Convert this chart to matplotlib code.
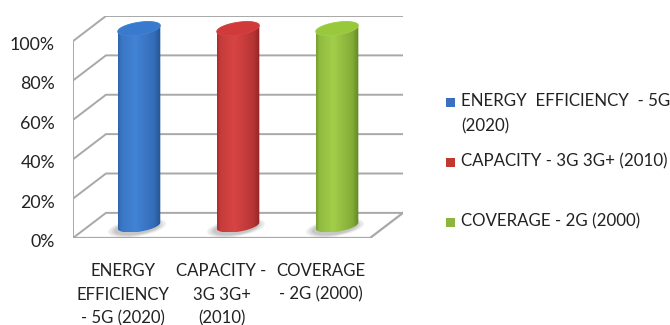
import numpy as np
import matplotlib
matplotlib.use("Agg")
import matplotlib.pyplot as plt
from matplotlib.patches import Polygon, Rectangle
from matplotlib.colors import to_rgb
from matplotlib.transforms import ScaledTranslation

categories = ["ENERGY\nEFFICIENCY\n- 5G (2020)", "CAPACITY -\n3G 3G+\n(2010)", "COVERAGE\n- 2G (2000)"]
series_names = ["ENERGY  EFFICIENCY  - 5G\n(2020)", "CAPACITY - 3G 3G+ (2010)", "COVERAGE - 2G (2000)"]
values = [100, 100, 100]
y_ticks = [0, 20, 40, 60, 80, 100]
y_tick_labels = ["0%", "20%", "40%", "60%", "80%", "100%"]

# (dark, light, top, legend) per series
palette = [
    ("#22508f", "#4283d6", "#3a7ace", "#3b70c0"),
    ("#8e2222", "#d84444", "#d03a3a", "#c0392f"),
    ("#5c8322", "#a2ce4a", "#98c93c", "#8db43e"),
]

FONT = "Lato"
TXT = "#222222"
GRID = "#a8a8a8"
W, H = 670, 325

# oblique depth offset (data units) for full depth
DXu = 0.333
DYu = 12.76

fig = plt.figure(figsize=(6.7, 3.25), dpi=100)
ax = fig.add_axes([73 / W, (H - 238) / H, 330 / W, 222 / H])


def proj(x, y, z):
    return x + z * DXu, y + z * DYu


# walls and floor grid
x0, x1 = -0.5, len(categories) - 0.5
for v in y_ticks:
    bx0, by = proj(x0, v, 1)
    bx1, _ = proj(x1, v, 1)
    ax.plot([x0, bx0, bx1], [v, by, by], color=GRID, lw=1.4, zorder=1, solid_joinstyle="miter")
ax.plot([x0, x0], [0, y_ticks[-1]], color=GRID, lw=1.4, zorder=1)
fx, fy = proj(x1, 0, 1)
ax.plot([x0, x1, fx], [0, 0, fy], color=GRID, lw=1.6, zorder=1)

# cylinders
r = 0.194
f = 0.28
th_r = np.arctan2(f * DXu, r)


def ellipse_pts(xc, yc, th):
    return xc + r * np.cos(th) + f * np.sin(th) * DXu, yc + f * np.sin(th) * DYu


th_full = np.linspace(0, 2 * np.pi, 80)
for i, val in enumerate(values):
    dark, light, top, _ = palette[i]
    xc, yb = proj(i, 0, 0.5)
    _, yt = proj(i, val, 0.5)

    # soft floor shadow
    for s in [1.35, 1.2, 1.08]:
        sx = xc - 0.02 + s * (r * np.cos(th_full) + f * np.sin(th_full) * DXu)
        sy = yb - 1.2 + s * f * np.sin(th_full) * DYu
        ax.add_patch(Polygon(np.column_stack([sx, sy]), closed=True, facecolor="black",
                             edgecolor="none", alpha=0.08, zorder=2))

    th_bot = np.linspace(th_r + np.pi, th_r + 2 * np.pi, 60)
    th_top = np.linspace(th_r, th_r + np.pi, 60)
    bx, by = ellipse_pts(xc, yb, th_bot)
    tx, ty = ellipse_pts(xc, yt, th_top)
    body = Polygon(np.column_stack([np.r_[bx, tx], np.r_[by, ty]]), closed=True,
                   facecolor="none", edgecolor="none", zorder=3)
    ax.add_patch(body)

    xmin, xmax = min(bx.min(), tx.min()), max(bx.max(), tx.max())
    t = np.linspace(0, 1, 200)
    mix = np.interp(t, [0, 0.08, 0.4, 0.85, 1], [0.35, 0.75, 1.0, 0.55, 0.05])
    d, l = np.array(to_rgb(dark)), np.array(to_rgb(light))
    grad = d[None, :] * (1 - mix[:, None]) + l[None, :] * mix[:, None]
    img = ax.imshow(grad[None, :, :], extent=[xmin, xmax, by.min(), ty.max()],
                    aspect="auto", zorder=3, interpolation="bilinear")
    img.set_clip_path(body)

    ex, ey = ellipse_pts(xc, yt, th_full)
    ax.add_patch(Polygon(np.column_stack([ex, ey]), closed=True, facecolor=top,
                         edgecolor=light, lw=0.6, zorder=4))

ax.set_xlim(x0, x1 + DXu)
ax.set_ylim(0, y_ticks[-1] + DYu)
for sp in ax.spines.values():
    sp.set_visible(False)
ax.set_yticks(y_ticks, y_tick_labels)
ax.set_xticks(range(len(categories)), categories)
ax.tick_params(axis="y", length=0, pad=13, labelsize=12.8, labelcolor=TXT)
ax.tick_params(axis="x", length=0, pad=18, labelsize=12.1, labelcolor=TXT)
shift = ScaledTranslation(0, -2.5 / 100, fig.dpi_scale_trans)
for lab in ax.get_yticklabels():
    lab.set_fontfamily(FONT)
    lab.set_transform(lab.get_transform() + shift)
for lab in ax.get_xticklabels():
    lab.set_fontfamily(FONT)
    lab.set_linespacing(1.58)
    lab.set_horizontalalignment("center")

# legend (one text per line so the marker lines up with the first line)
leg_y = [102, 162, 222]
for i, name in enumerate(series_names):
    yc = leg_y[i]
    fig.add_artist(Rectangle((446 / W, (H - yc - 4.5) / H), 9 / W, 9 / H,
                             transform=fig.transFigure, facecolor=palette[i][3],
                             edgecolor="none"))
    for j, line in enumerate(name.split("\n")):
        fig.text(461 / W, (H - yc - 4.5 - 25 * j) / H, line, ha="left", va="baseline",
                 fontsize=12.2, family=FONT, color=TXT, transform=fig.transFigure)

fig.savefig("out.png", dpi=100)
